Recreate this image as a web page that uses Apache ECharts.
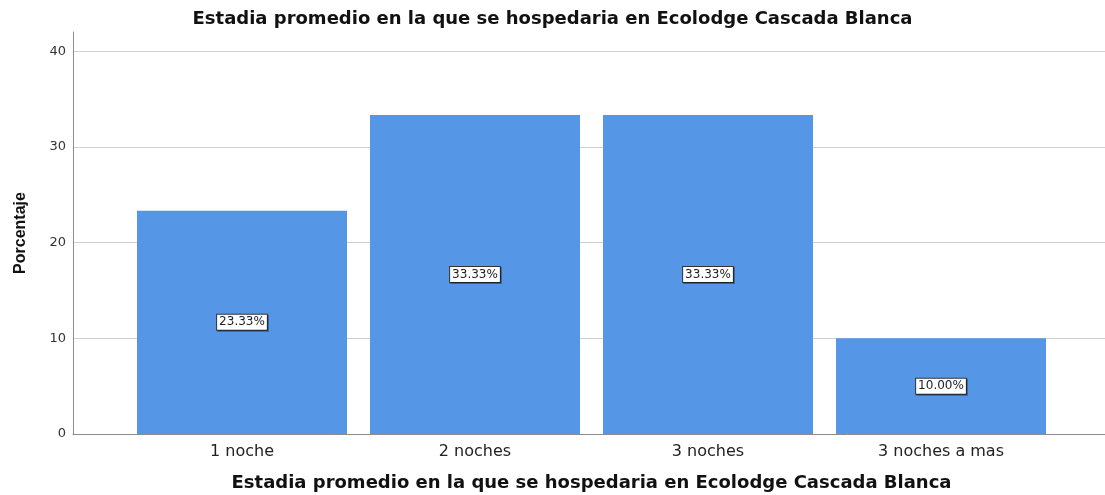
<!DOCTYPE html>
<html>
<head>
<meta charset="utf-8">
<script src="https://cdn.jsdelivr.net/npm/echarts@6/dist/echarts.min.js"></script>
<style>
  html, body { margin: 0; padding: 0; background: #fff; }
  #container { width: 1105px; height: 495px; }
</style>
</head>
<body>
<div id="container"></div>
<script>
var categories = ['1 noche', '2 noches', '3 noches', '3 noches a mas'];
var percentages = [23.33, 33.33, 33.33, 10.00];
var yTicks = [0, 10, 20, 30, 40];

var titleText = 'Estadia promedio en la que se hospedaria en Ecolodge Cascada Blanca';
var wide = '"DejaVu Sans", Verdana, sans-serif';
var font = 'Arial, "Liberation Sans", sans-serif';

var chart = echarts.init(document.getElementById('container'));
chart.setOption({
    animation: false,
    title: {
        text: titleText,
        left: 'center',
        top: 5,
        textStyle: { fontFamily: wide, fontSize: 18, fontWeight: 'bold', color: '#111' }
    },
    grid: [
        { left: 73, right: 0, top: 32, bottom: 61, outerBoundsMode: 'none', containLabel: false },
        { left: 125.5, right: 47.5, top: 32, bottom: 61, outerBoundsMode: 'none', containLabel: false }
    ],
    xAxis: [
        {
            gridIndex: 0, type: 'value', min: 0, max: 1,
            axisLine: { show: true, onZero: false, lineStyle: { color: '#8c8c8c', width: 1 } },
            axisTick: { show: false }, axisLabel: { show: false }, splitLine: { show: false }
        },
        {
            gridIndex: 1, type: 'category', data: categories,
            axisLine: { show: false }, axisTick: { show: false },
            axisLabel: { fontFamily: wide, fontSize: 16, color: '#222', margin: 10 },
            name: titleText, nameLocation: 'middle', nameGap: 40,
            nameTextStyle: { fontFamily: wide, fontSize: 18, fontWeight: 'bold', color: '#111' }
        }
    ],
    yAxis: [
        {
            gridIndex: 0, type: 'value', min: 0, max: 42, interval: 10,
            axisLine: { show: true, lineStyle: { color: '#8c8c8c', width: 1 } },
            axisTick: { show: false },
            axisLabel: {
                fontFamily: wide, fontSize: 13, color: '#333', margin: 7, showMaxLabel: false,
                formatter: function (v) { return yTicks.indexOf(v) >= 0 ? String(v) : ''; }
            },
            splitLine: { show: true, showMinLine: false, showMaxLine: false, lineStyle: { color: '#cfcfcf', width: 1 } },
            name: 'Porcentaje', nameLocation: 'middle', nameGap: 44, nameRotate: 90,
            nameTextStyle: { fontFamily: font, fontSize: 16, fontWeight: 'bold', color: '#111' }
        },
        {
            gridIndex: 1, type: 'value', min: 0, max: 42, interval: 10, show: false
        }
    ],
    series: [{
        type: 'bar',
        xAxisIndex: 1,
        yAxisIndex: 1,
        data: percentages,
        barWidth: 210,
        itemStyle: { color: '#5596e6' },
        label: {
            show: true,
            position: 'inside',
            formatter: function (p) { return p.value.toFixed(2) + '%'; },
            fontFamily: wide, fontSize: 12, color: '#222',
            backgroundColor: '#fff', borderColor: '#333', borderWidth: 1,
            padding: [2, 2, 1, 2],
            shadowColor: 'rgba(0,0,0,0.35)', shadowOffsetX: 1, shadowOffsetY: 1
        }
    }]
});
</script>
</body>
</html>
